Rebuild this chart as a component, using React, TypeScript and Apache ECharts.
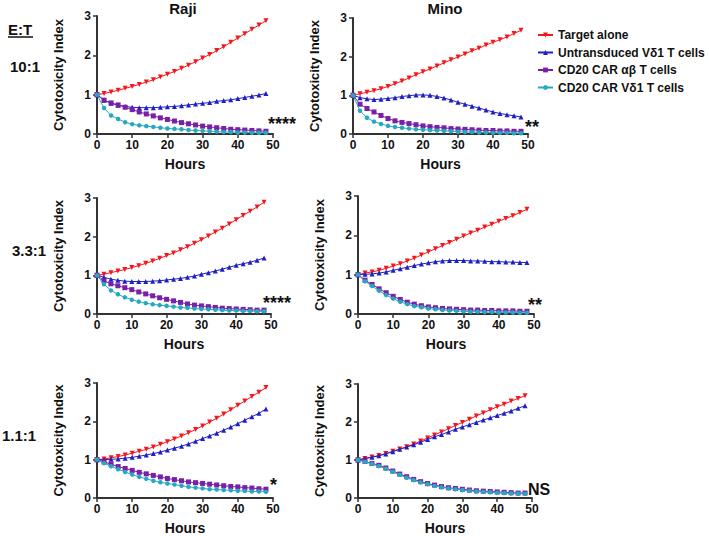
import React, { useEffect, useRef } from "react";
import * as echarts from "echarts";

const hours = [0, 2, 4, 6, 8, 10, 12, 14, 16, 18, 20, 22, 24, 26, 28, 30, 32, 34, 36, 38, 40, 42, 44, 46, 48];
const seriesNames = ["Target alone", "Untransduced Vδ1 T cells", "CD20 CAR αβ T cells", "CD20 CAR Vδ1 T cells"];
const columnTitles = ["Raji", "Mino"];
const rowLabels = ["10:1", "3.3:1", "1.1:1"];
const significance = ["****", "**", "****", "**", "*", "NS"];
const xTicks = [0, 10, 20, 30, 40, 50];
const yTicks = [0, 1, 2, 3];

// Raji 10:1
const raji10Target = [1.00, 1.03, 1.07, 1.11, 1.16, 1.21, 1.26, 1.32, 1.38, 1.45, 1.52, 1.59, 1.67, 1.75, 1.84, 1.93, 2.02, 2.12, 2.22, 2.33, 2.44, 2.55, 2.66, 2.77, 2.88];
const raji10Untr = [1.00, 0.86, 0.78, 0.73, 0.70, 0.68, 0.67, 0.67, 0.67, 0.68, 0.69, 0.70, 0.72, 0.74, 0.76, 0.78, 0.80, 0.83, 0.85, 0.87, 0.90, 0.93, 0.96, 0.99, 1.03];
const raji10Ab = [1.00, 0.86, 0.79, 0.74, 0.68, 0.62, 0.56, 0.51, 0.46, 0.41, 0.37, 0.33, 0.29, 0.26, 0.23, 0.20, 0.18, 0.16, 0.14, 0.12, 0.11, 0.10, 0.09, 0.08, 0.07];
const raji10Vd1 = [1.00, 0.66, 0.47, 0.38, 0.30, 0.25, 0.22, 0.20, 0.18, 0.16, 0.14, 0.13, 0.12, 0.10, 0.09, 0.08, 0.07, 0.06, 0.05, 0.05, 0.04, 0.04, 0.03, 0.03, 0.03];
// Mino 10:1
const mino10Target = [1.00, 1.04, 1.08, 1.12, 1.17, 1.23, 1.30, 1.37, 1.45, 1.53, 1.61, 1.68, 1.76, 1.84, 1.92, 1.99, 2.07, 2.15, 2.22, 2.30, 2.37, 2.44, 2.51, 2.60, 2.68];
const mino10Untr = [1.00, 0.94, 0.91, 0.89, 0.90, 0.92, 0.94, 0.97, 0.99, 1.01, 1.01, 1.00, 0.97, 0.93, 0.88, 0.82, 0.77, 0.72, 0.67, 0.62, 0.57, 0.53, 0.50, 0.47, 0.44];
const mino10Ab = [1.00, 0.77, 0.66, 0.57, 0.48, 0.40, 0.34, 0.30, 0.27, 0.24, 0.21, 0.19, 0.17, 0.16, 0.14, 0.13, 0.12, 0.11, 0.10, 0.09, 0.09, 0.08, 0.08, 0.07, 0.07];
const mino10Vd1 = [1.00, 0.60, 0.42, 0.32, 0.26, 0.21, 0.18, 0.16, 0.14, 0.12, 0.11, 0.10, 0.09, 0.08, 0.07, 0.06, 0.05, 0.05, 0.04, 0.04, 0.03, 0.03, 0.03, 0.02, 0.02];
// Raji 3.3:1
const raji33Target = [1.00, 1.03, 1.07, 1.11, 1.15, 1.20, 1.25, 1.31, 1.37, 1.44, 1.51, 1.58, 1.66, 1.74, 1.83, 1.92, 2.02, 2.12, 2.22, 2.33, 2.44, 2.55, 2.66, 2.77, 2.89];
const raji33Untr = [1.00, 0.95, 0.90, 0.87, 0.85, 0.84, 0.84, 0.84, 0.85, 0.86, 0.88, 0.90, 0.92, 0.95, 0.98, 1.03, 1.07, 1.11, 1.16, 1.21, 1.26, 1.30, 1.34, 1.39, 1.45];
const raji33Ab = [1.00, 0.86, 0.78, 0.73, 0.68, 0.63, 0.57, 0.52, 0.47, 0.42, 0.38, 0.34, 0.30, 0.26, 0.23, 0.21, 0.19, 0.17, 0.15, 0.14, 0.13, 0.12, 0.11, 0.10, 0.10];
const raji33Vd1 = [1.00, 0.77, 0.61, 0.51, 0.43, 0.37, 0.32, 0.28, 0.25, 0.23, 0.21, 0.19, 0.17, 0.16, 0.14, 0.13, 0.12, 0.11, 0.10, 0.09, 0.09, 0.08, 0.08, 0.07, 0.07];
// Mino 3.3:1
const mino33Target = [1.00, 1.04, 1.07, 1.11, 1.16, 1.22, 1.28, 1.35, 1.42, 1.50, 1.58, 1.66, 1.74, 1.82, 1.90, 1.98, 2.06, 2.13, 2.21, 2.28, 2.36, 2.43, 2.50, 2.58, 2.66];
const mino33Untr = [1.00, 1.01, 1.02, 1.04, 1.07, 1.11, 1.15, 1.19, 1.23, 1.27, 1.30, 1.33, 1.35, 1.36, 1.36, 1.36, 1.35, 1.35, 1.34, 1.33, 1.33, 1.32, 1.32, 1.31, 1.31];
const mino33Ab = [1.00, 0.86, 0.75, 0.64, 0.54, 0.45, 0.37, 0.30, 0.25, 0.21, 0.18, 0.16, 0.14, 0.13, 0.12, 0.11, 0.10, 0.10, 0.09, 0.09, 0.08, 0.08, 0.08, 0.07, 0.07];
const mino33Vd1 = [1.00, 0.83, 0.71, 0.59, 0.48, 0.39, 0.31, 0.25, 0.20, 0.17, 0.14, 0.12, 0.10, 0.09, 0.08, 0.07, 0.06, 0.06, 0.05, 0.05, 0.04, 0.04, 0.04, 0.03, 0.03];
// Raji 1.1:1
const raji11Target = [1.00, 1.02, 1.05, 1.08, 1.12, 1.17, 1.22, 1.27, 1.33, 1.40, 1.47, 1.54, 1.62, 1.70, 1.79, 1.88, 1.98, 2.08, 2.19, 2.30, 2.42, 2.53, 2.65, 2.76, 2.88];
const raji11Untr = [1.00, 1.00, 1.01, 1.02, 1.04, 1.06, 1.09, 1.12, 1.16, 1.20, 1.25, 1.30, 1.35, 1.41, 1.48, 1.55, 1.62, 1.69, 1.77, 1.85, 1.94, 2.03, 2.12, 2.21, 2.32];
const raji11Ab = [1.00, 0.94, 0.88, 0.82, 0.77, 0.72, 0.67, 0.63, 0.59, 0.55, 0.51, 0.48, 0.45, 0.42, 0.40, 0.38, 0.36, 0.34, 0.32, 0.30, 0.29, 0.27, 0.26, 0.24, 0.23];
const raji11Vd1 = [1.00, 0.91, 0.83, 0.75, 0.68, 0.61, 0.55, 0.50, 0.45, 0.41, 0.38, 0.35, 0.32, 0.29, 0.27, 0.25, 0.23, 0.22, 0.21, 0.20, 0.19, 0.18, 0.17, 0.17, 0.16];
// Mino 1.1:1
const mino11Target = [1.00, 1.04, 1.08, 1.12, 1.17, 1.23, 1.29, 1.35, 1.42, 1.50, 1.58, 1.66, 1.74, 1.82, 1.91, 1.99, 2.07, 2.16, 2.24, 2.32, 2.40, 2.47, 2.55, 2.62, 2.69];
const mino11Untr = [1.00, 1.04, 1.07, 1.11, 1.16, 1.22, 1.28, 1.34, 1.40, 1.47, 1.54, 1.61, 1.67, 1.74, 1.81, 1.87, 1.93, 1.99, 2.05, 2.11, 2.17, 2.23, 2.29, 2.36, 2.43];
const mino11Ab = [1.00, 0.96, 0.91, 0.86, 0.79, 0.71, 0.63, 0.56, 0.49, 0.43, 0.38, 0.34, 0.30, 0.27, 0.25, 0.23, 0.21, 0.19, 0.18, 0.17, 0.16, 0.15, 0.14, 0.13, 0.13];
const mino11Vd1 = [1.00, 0.95, 0.90, 0.84, 0.77, 0.69, 0.61, 0.53, 0.47, 0.41, 0.36, 0.32, 0.28, 0.25, 0.23, 0.21, 0.19, 0.17, 0.16, 0.15, 0.14, 0.13, 0.12, 0.12, 0.11];

const panelData = [
  [raji10Target, raji10Untr, raji10Ab, raji10Vd1],
  [mino10Target, mino10Untr, mino10Ab, mino10Vd1],
  [raji33Target, raji33Untr, raji33Ab, raji33Vd1],
  [mino33Target, mino33Untr, mino33Ab, mino33Vd1],
  [raji11Target, raji11Untr, raji11Ab, raji11Vd1],
  [mino11Target, mino11Untr, mino11Ab, mino11Vd1],
];

const colors = ["#f5171c", "#1f1fc4", "#7a1fa8", "#25a9c0"];
const symbols = ["triangle", "triangle", "rect", "circle"];
const rotations = [180, 0, 0, 0];

const grids = [
  { left: 97, top: 16, width: 176, height: 118 },
  { left: 353, top: 18, width: 175, height: 116 },
  { left: 97, top: 198, width: 174, height: 116 },
  { left: 358, top: 196, width: 176, height: 118 },
  { left: 97, top: 383, width: 176, height: 117 },
  { left: 358, top: 384, width: 174, height: 116 },
];

const FONT = "'Liberation Sans', Arial, sans-serif";

export default function App() {
  const ref = useRef<HTMLDivElement>(null);
  useEffect(() => {
    document.body.style.margin = "0";
    const chart = echarts.init(ref.current!, null, { renderer: "svg" });
    const axisLine = { show: true, lineStyle: { color: "#333", width: 2 } };
    const axisTick = { show: true, length: 4, lineStyle: { color: "#333", width: 1.5 } };
    const xAxis = grids.map((_, i) => ({
      type: "value",
      gridIndex: i,
      min: xTicks[0],
      max: xTicks[xTicks.length - 1],
      interval: 10,
      axisLine,
      axisTick,
      splitLine: { show: false },
      axisLabel: { color: "#111", fontWeight: "bold", fontSize: 12, fontFamily: FONT, margin: 5 },
      name: "Hours",
      nameLocation: "middle",
      nameGap: 23,
      nameTextStyle: { color: "#111", fontWeight: "bold", fontSize: 14, fontFamily: FONT },
    }));
    const yAxis = grids.map((_, i) => ({
      type: "value",
      gridIndex: i,
      min: yTicks[0],
      max: yTicks[yTicks.length - 1],
      interval: 1,
      axisLine,
      axisTick,
      splitLine: { show: false },
      axisLabel: { color: "#111", fontWeight: "bold", fontSize: 12, fontFamily: FONT, margin: 6 },
      name: "Cytotoxicity Index",
      nameLocation: "middle",
      nameGap: 32,
      nameTextStyle: { color: "#111", fontWeight: "bold", fontSize: 13, fontFamily: FONT },
    }));
    const series: any[] = [];
    panelData.forEach((panel, p) => {
      panel.forEach((vals, s) => {
        series.push({
          type: "line",
          name: seriesNames[s],
          xAxisIndex: p,
          yAxisIndex: p,
          data: hours.map((h, k) => [h, vals[k]]),
          symbol: symbols[s],
          symbolRotate: rotations[s],
          symbolSize: s === 3 ? 4.5 : 5,
          smooth: false,
          lineStyle: { color: colors[s], width: 1 },
          itemStyle: { color: colors[s] },
          z: 2 + s,
        });
      });
    });
    const sigPos = [
      { x: 268, y: 124, size: 18 },
      { x: 525, y: 127, size: 18 },
      { x: 263, y: 303, size: 18 },
      { x: 528, y: 305, size: 18 },
      { x: 270, y: 485, size: 18 },
      { x: 528, y: 489, size: 16 },
    ];
    const graphic: any[] = [];
    significance.forEach((t, i) => {
      graphic.push({
        type: "text",
        x: sigPos[i].x,
        y: sigPos[i].y,
        style: {
          text: t,
          fill: "#111",
          font: `bold ${sigPos[i].size}px ${FONT}`,
          textVerticalAlign: "middle",
        },
      });
    });
    const titleX = [183, 445];
    columnTitles.forEach((t, i) => {
      graphic.push({
        type: "text",
        x: titleX[i],
        y: 8,
        style: { text: t, fill: "#111", font: `bold 15px ${FONT}`, textAlign: "center", textVerticalAlign: "middle" },
      });
    });
    graphic.push({
      type: "text",
      x: 8,
      y: 29,
      style: { text: "E:T", fill: "#111", font: `bold 15px ${FONT}`, textVerticalAlign: "middle" },
    });
    graphic.push({
      type: "line",
      shape: { x1: 8, y1: 37, x2: 33, y2: 37 },
      style: { stroke: "#111", lineWidth: 1.5 },
    });
    const rowY = [66, 250, 435];
    const rowX = [10, 12, 2];
    rowLabels.forEach((t, i) => {
      graphic.push({
        type: "text",
        x: rowX[i],
        y: rowY[i],
        style: { text: t, fill: "#111", font: `bold 15px ${FONT}`, textVerticalAlign: "middle" },
      });
    });

    chart.setOption({
      animation: false,
      grid: grids,
      xAxis,
      yAxis,
      series,
      legend: {
        orient: "vertical",
        left: 537,
        top: 29,
        itemWidth: 15,
        itemHeight: 6,
        itemGap: 5.5,
        padding: 0,
        data: seriesNames,
        textStyle: { color: "#111", fontWeight: "bold", fontSize: 12, fontFamily: FONT },
      },
      graphic,
    });
    return () => chart.dispose();
  }, []);
  return <div ref={ref} style={{ width: 709, height: 536 }} />;
}
